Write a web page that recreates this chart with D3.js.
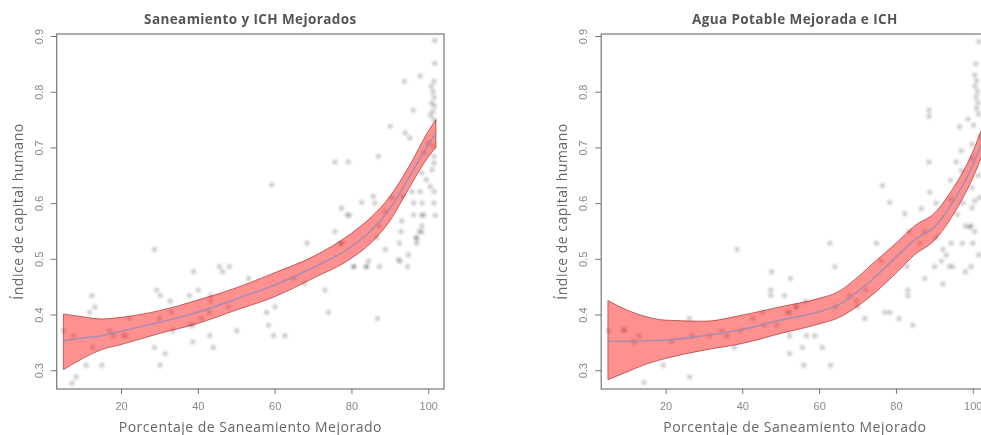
<!DOCTYPE html>
<html>
<head>
<meta charset="utf-8">
<script src="https://cdn.jsdelivr.net/npm/d3@7"></script>
<style>
  body { margin: 0; background: #fff; }
  svg { display: block; font-family: "Open Sans", "DejaVu Sans", sans-serif; }
  .tick line, .domain { stroke: #777; }
  .tick text { fill: #888; font-size: 11px; }
</style>
</head>
<body>
<div id="viz"></div>
<script>
// Setting up constants
const F_WIDTH = 981;
const F_HEIGHT = 435;
const PLOT = {left: 56.7, width: 387.3, top: 34, bottom: 389};
const PANEL_SHIFT = 544.5;

// axis ticks
const X_TICKS = [20, 40, 60, 80, 100];
const Y_TICKS = [0.3, 0.4, 0.5, 0.6, 0.7, 0.8, 0.9];
const X_DOMAIN = [3.25, 104.1];
const Y_DOMAIN = [0.2663, 0.9036];

const TITLES = ["Saneamiento y ICH Mejorados", "Agua Potable Mejorada e ICH"];
const X_LABEL = "Porcentaje de Saneamiento Mejorado";
const Y_LABEL = "Índice de capital humano";

// left panel: sanitation (%) vs HCI
const SAN_X = [5, 7.6, 7.2, 8.3, 10.9, 11.8, 12.4, 13.2, 12.6, 15, 17.1, 18, 20.6, 21.3, 22.2,
  28.7, 29.3, 30.2, 28.7, 30.2, 31.5, 30, 32.8, 33.2, 33.5, 37.8, 38.7, 38, 38.9, 38.7,
  40.1, 40.9, 43.1, 44, 43.3, 43.4, 43, 45.6, 46.5, 48.2, 48, 50.1, 53.2, 57.9, 58.4,
  60.1, 59.7, 62.7, 64.9, 67.7, 68.4, 73.1, 74, 75.7, 77.1, 77.5, 79.5, 80.7, 83.8, 84.4,
  86.6, 87.2, 86.8, 87.3, 88.8, 92.5, 92.7, 92.9, 93.1, 94.6, 94.8, 96.8, 97, 97.7, 98.3,
  98.3, 101.8, 101.7, 101.7, 93.8, 97.9, 101.5, 100.8, 101.2, 101.5, 100.9, 101.6, 101.2, 100.6, 101.4,
  96.1, 90.1, 94, 95.2, 75.7, 79.2, 87, 101.5, 101.5, 100, 59.2, 85.7, 82.7, 93.5, 95.7,
  97.9, 101.5, 101.5, 98.4, 96.2, 98.8, 96.2, 77.4, 78.9, 86.1, 88.8, 98.3, 100.5, 99.5, 101,
  99, 101.3, 90.5, 80.5, 84, 97, 98.3, 92.2];
const SAN_Y = [0.371, 0.362, 0.277, 0.288, 0.309, 0.404, 0.434, 0.414, 0.341, 0.309, 0.371, 0.362, 0.362, 0.362, 0.393,
  0.517, 0.444, 0.434, 0.341, 0.309, 0.330, 0.393, 0.424, 0.404, 0.371, 0.434, 0.381, 0.381, 0.477, 0.351,
  0.444, 0.393, 0.362, 0.341, 0.434, 0.424, 0.404, 0.486, 0.477, 0.486, 0.414, 0.371, 0.465, 0.404, 0.381,
  0.414, 0.362, 0.362, 0.465, 0.456, 0.528, 0.444, 0.404, 0.549, 0.528, 0.528, 0.578, 0.486, 0.486, 0.496,
  0.538, 0.559, 0.393, 0.486, 0.517, 0.528, 0.496, 0.549, 0.568, 0.486, 0.507, 0.538, 0.528, 0.549, 0.559,
  0.578, 0.578, 0.892, 0.851, 0.819, 0.828, 0.819, 0.810, 0.800, 0.790, 0.780, 0.775, 0.765, 0.758, 0.750,
  0.767, 0.738, 0.726, 0.717, 0.674, 0.674, 0.684, 0.684, 0.672, 0.708, 0.633, 0.612, 0.601, 0.612, 0.621,
  0.621, 0.621, 0.600, 0.600, 0.600, 0.579, 0.579, 0.591, 0.579, 0.600, 0.585, 0.654, 0.630, 0.642, 0.660,
  0.690, 0.703, 0.610, 0.486, 0.486, 0.537, 0.548, 0.498];

// right panel: drinking water (%) vs HCI
const AGUA_X = [5.1, 9, 9.4, 11.8, 13.1, 14.4, 19.4, 21.6, 26.2, 26.8, 26.3, 31.5, 34.7, 36, 38,
  38.6, 39.5, 42.8, 45.2, 45.6, 47.6, 47.4, 47.4, 48.9, 51, 51.7, 52.3, 52.5, 52.3, 52.3,
  53.9, 55.6, 56, 56.7, 56.5, 58.9, 60.8, 62.8, 63, 64.1, 64.3, 68, 70.1, 69.7, 71.9,
  72.1, 74.9, 76.2, 77.1, 78.4, 80.8, 83.1, 83.1, 82.9, 83.4, 84.4, 86.2, 87.5, 87.5, 90.1,
  90.5, 91.8, 92.2, 92.2, 93.1, 93.9, 94.8, 94.4, 97.3, 98.1, 99.6, 100, 98.1, 99.6, 100.5,
  101.6, 76.5, 78.4, 82.3, 86.6, 88.8, 88.6, 95.7, 99.2, 90.5, 94.2, 94.3, 97, 97, 99.8,
  99.8, 99.8, 100.5, 99.8, 88.6, 88.6, 96.6, 98.8, 100.8, 100.5, 101, 100.6, 101.2, 100.9, 101.3,
  101.6, 101, 101.5, 100.2, 101.8, 101.5, 101.8, 96, 97.5, 54.1];
const AGUA_Y = [0.371, 0.372, 0.372, 0.351, 0.362, 0.278, 0.309, 0.351, 0.393, 0.362, 0.288, 0.362, 0.371, 0.362, 0.341,
  0.517, 0.371, 0.393, 0.404, 0.381, 0.477, 0.444, 0.434, 0.381, 0.434, 0.404, 0.404, 0.465, 0.362, 0.330,
  0.414, 0.341, 0.309, 0.362, 0.424, 0.362, 0.341, 0.528, 0.309, 0.486, 0.414, 0.434, 0.414, 0.424, 0.393,
  0.444, 0.528, 0.496, 0.404, 0.404, 0.393, 0.444, 0.434, 0.486, 0.549, 0.381, 0.528, 0.465, 0.549, 0.486,
  0.538, 0.496, 0.455, 0.517, 0.507, 0.486, 0.486, 0.528, 0.528, 0.477, 0.486, 0.528, 0.559, 0.559, 0.549,
  0.507, 0.632, 0.601, 0.581, 0.590, 0.620, 0.674, 0.674, 0.557, 0.600, 0.641, 0.607, 0.694, 0.659, 0.706,
  0.680, 0.628, 0.604, 0.592, 0.767, 0.756, 0.737, 0.751, 0.850, 0.830, 0.820, 0.810, 0.800, 0.790, 0.780,
  0.890, 0.770, 0.760, 0.740, 0.720, 0.650, 0.610, 0.580, 0.600, 0.414];

// smooth fit with confidence band
const SAN_FIT_X = [5, 10, 15, 20, 30, 40, 50, 60, 70, 80, 85, 90, 95, 100, 102];
const SAN_FIT = [0.353, 0.358, 0.362, 0.370, 0.386, 0.404, 0.428, 0.453, 0.484, 0.522, 0.550, 0.590, 0.646, 0.705, 0.725];
const SAN_LO = [0.301, 0.321, 0.337, 0.346, 0.366, 0.384, 0.408, 0.432, 0.465, 0.501, 0.528, 0.568, 0.627, 0.683, 0.700];
const SAN_HI = [0.401, 0.396, 0.392, 0.395, 0.407, 0.426, 0.448, 0.475, 0.504, 0.546, 0.574, 0.612, 0.666, 0.729, 0.750];

const AGUA_FIT_X = [5, 10, 15, 20, 30, 40, 50, 60, 65, 70, 75, 80, 85, 90, 95, 100, 103];
const AGUA_FIT = [0.352, 0.352, 0.353, 0.354, 0.362, 0.373, 0.390, 0.405, 0.417, 0.441, 0.470, 0.503, 0.535, 0.557, 0.604, 0.668, 0.720];
const AGUA_LO = [0.283, 0.297, 0.311, 0.321, 0.336, 0.348, 0.366, 0.383, 0.394, 0.415, 0.442, 0.474, 0.508, 0.533, 0.580, 0.645, 0.695];
const AGUA_HI = [0.425, 0.408, 0.396, 0.390, 0.388, 0.399, 0.414, 0.429, 0.441, 0.467, 0.498, 0.528, 0.560, 0.582, 0.628, 0.692, 0.745];

const FRAME = d3.select("#viz")
  .append("svg")
    .attr("width", F_WIDTH)
    .attr("height", F_HEIGHT);

const defs = FRAME.append("defs");
defs.append("filter").attr("id", "soft")
  .append("feGaussianBlur").attr("stdDeviation", 0.8);

function drawPanel(i, px, py, fx, fit, lo, hi) {
  const off = i * PANEL_SHIFT;
  const x0 = PLOT.left + off;

  const X_SCALE = d3.scaleLinear().domain(X_DOMAIN).range([x0, x0 + PLOT.width]);
  const Y_SCALE = d3.scaleLinear().domain(Y_DOMAIN).range([PLOT.bottom, PLOT.top]);

  defs.append("clipPath").attr("id", "clip" + i)
    .append("rect")
      .attr("x", x0).attr("y", PLOT.top)
      .attr("width", PLOT.width).attr("height", PLOT.bottom - PLOT.top);

  const plot = FRAME.append("g").attr("clip-path", "url(#clip" + i + ")");

  // points
  plot.append("g").attr("filter", "url(#soft)")
    .selectAll("circle")
    .data(px.map((v, k) => ({x: v, y: py[k]})))
    .enter()
    .append("circle")
      .attr("cx", (d) => X_SCALE(d.x))
      .attr("cy", (d) => Y_SCALE(d.y))
      .attr("r", 2.6)
      .style("fill", "#333")
      .style("opacity", 0.24);

  const band = fx.map((v, k) => ({x: v, fit: fit[k], lo: lo[k], hi: hi[k]}));

  // confidence band
  plot.append("path")
    .datum(band)
    .attr("d", d3.area()
      .x((d) => X_SCALE(d.x))
      .y0((d) => Y_SCALE(d.lo))
      .y1((d) => Y_SCALE(d.hi))
      .curve(d3.curveMonotoneX))
    .style("fill", "rgba(255, 20, 20, 0.47)")
    .style("stroke", "rgba(150, 30, 30, 0.6)")
    .style("stroke-width", 1);

  // fitted line
  plot.append("path")
    .datum(band)
    .attr("d", d3.line()
      .x((d) => X_SCALE(d.x))
      .y((d) => Y_SCALE(d.fit))
      .curve(d3.curveMonotoneX))
    .style("fill", "none")
    .style("stroke", "#9a8db3")
    .style("stroke-width", 1.6)
    .style("opacity", 0.85);

  // box
  FRAME.append("rect")
    .attr("x", x0).attr("y", PLOT.top)
    .attr("width", PLOT.width).attr("height", PLOT.bottom - PLOT.top)
    .style("fill", "none")
    .style("stroke", "#777")
    .style("stroke-width", 1.2);

  // x-axis
  FRAME.append("g")
    .attr("transform", "translate(0," + PLOT.bottom + ")")
    .call(d3.axisBottom(X_SCALE).tickValues(X_TICKS).tickSize(5).tickSizeOuter(0).tickPadding(8))
    .call((g) => g.select(".domain").remove());

  // y-axis, rotated labels
  FRAME.append("g")
    .attr("transform", "translate(" + x0 + ",0)")
    .call(d3.axisLeft(Y_SCALE).tickValues(Y_TICKS).tickFormat(d3.format(".1f")).tickSize(6).tickSizeOuter(0))
    .call((g) => g.select(".domain").remove())
    .call((g) => g.selectAll(".tick text")
      .attr("transform", "rotate(-90)")
      .attr("x", 0).attr("y", -14).attr("dy", 0)
      .style("text-anchor", "middle"));

  const cx = x0 + PLOT.width / 2;

  FRAME.append("text")
    .attr("x", cx).attr("y", 24)
    .attr("text-anchor", "middle")
    .style("font-size", "13.5px").style("font-weight", "bold").style("fill", "#555")
    .style("letter-spacing", "0.4px")
    .text(TITLES[i]);

  FRAME.append("text")
    .attr("x", cx).attr("y", 432)
    .attr("text-anchor", "middle")
    .style("font-size", "14px").style("fill", "#666")
    .style("letter-spacing", "0.5px")
    .text(X_LABEL);

  FRAME.append("text")
    .attr("transform", "translate(" + (x0 - 34) + "," + ((PLOT.top + PLOT.bottom) / 2) + ") rotate(-90)")
    .attr("text-anchor", "middle")
    .style("font-size", "14px").style("fill", "#666")
    .style("letter-spacing", "0.5px")
    .text(Y_LABEL);
}

drawPanel(0, SAN_X, SAN_Y, SAN_FIT_X, SAN_FIT, SAN_LO, SAN_HI);
drawPanel(1, AGUA_X, AGUA_Y, AGUA_FIT_X, AGUA_FIT, AGUA_LO, AGUA_HI);
</script>
</body>
</html>
